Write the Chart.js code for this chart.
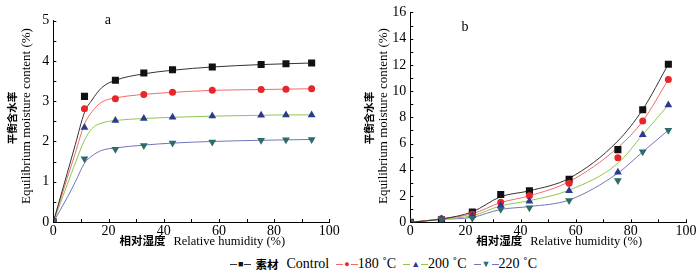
<!DOCTYPE html>
<html>
<head>
  <title>Equilibrium moisture content</title>
  <script src="https://cdn.jsdelivr.net/npm/chart.js"></script>
  <style>
    body { margin: 0; background: #fff; }
    #wrap { position: relative; width: 700px; height: 279px; }
    #chartA { position: absolute; left: 0; top: 0; }
    #chartB { position: absolute; left: 350px; top: 0; }
    #legend { position: absolute; left: 230px; top: 255px; height: 18px;
      display: flex; align-items: center; white-space: nowrap;
      font: 14px "Liberation Serif", serif; color: #000; }
    .item { display: flex; align-items: center; margin-right: 7px; }
    .seg { display: inline-block; width: 7px; height: 1px; }
    .mk { font-size: 9px; line-height: 9px; margin: 0 1px; }
    .zh { font-family: "Noto Sans CJK SC"; font-weight: bold; font-size: 11.5px; margin: 0 8px 0 4px; }
  </style>
</head>
<body>
<div id="wrap">
  <canvas id="chartA" width="350" height="255"></canvas>
  <canvas id="chartB" width="350" height="255"></canvas>
  <div id="legend"></div>
</div>
<script>
// relative humidity of the saturated salt solutions (%)
const rh = [0, 11.3, 22.5, 32.8, 43.2, 57.6, 75.3, 84.3, 93.6];

// panel a: measured points
const controlA = [0, 3.12, 3.52, 3.70, 3.78, 3.85, 3.91, 3.93, 3.95];
const t180A = [0, 2.81, 3.06, 3.17, 3.22, 3.27, 3.29, 3.30, 3.31];
const t200A = [0, 2.35, 2.52, 2.57, 2.60, 2.63, 2.65, 2.66, 2.66];
const t220A = [0, 1.57, 1.81, 1.90, 1.96, 1.99, 2.03, 2.04, 2.05];

// panel a: fitted curves
const rhFitA = [0, 5, 8, 11.3, 14, 17.6, 22.5, 32.8, 43.2, 57.6, 75.3, 84.3, 93.6];
const controlFitA = [0, 1.2, 1.93, 2.72, 3.03, 3.34, 3.52, 3.68, 3.77, 3.85, 3.91, 3.93, 3.95];
const t180FitA = [0, 1.08, 1.72, 2.43, 2.74, 2.98, 3.08, 3.17, 3.22, 3.27, 3.29, 3.30, 3.31];
const t200FitA = [0, 0.92, 1.47, 2.03, 2.32, 2.46, 2.52, 2.57, 2.60, 2.63, 2.65, 2.66, 2.66];
const t220FitA = [0, 0.6, 1.0, 1.46, 1.64, 1.78, 1.84, 1.91, 1.96, 2.0, 2.03, 2.04, 2.05];

// panel b: measured points
const controlB = [0, 0.2, 0.79, 2.12, 2.40, 3.27, 5.54, 8.58, 12.05];
const t180B = [0, 0.27, 0.62, 1.53, 2.03, 2.97, 4.92, 7.72, 10.88];
const t200B = [0, 0.25, 0.49, 1.28, 1.61, 2.40, 3.81, 6.68, 8.95];
const t220B = [0, 0.22, 0.30, 1.0, 1.11, 1.66, 3.19, 5.37, 7.02];

// panel b: fitted curves
const controlFitB = [0, 0.25, 0.8, 1.95, 2.4, 3.35, 6.2, 8.6, 12.05];
const t180FitB = [0, 0.27, 0.65, 1.5, 2.02, 3.1, 5.7, 7.72, 10.88];
const t200FitB = [0, 0.25, 0.5, 1.25, 1.65, 2.45, 4.5, 6.68, 8.95];
const t220FitB = [0, 0.22, 0.38, 0.98, 1.2, 1.7, 3.75, 5.37, 7.02];

const seriesZh = ['素材', '', '', ''];
const seriesNames = ['Control', '180 ˚C', '200 ˚C', '220 ˚C'];
const lineColors = ['#333333', '#f26a6a', '#8cc84b', '#7076bb'];
const markColors = ['#111111', '#e8262a', '#2b3990', '#2d6a6a'];
const markStyles = ['rect', 'circle', 'triangle', 'triangle'];
const markRot = [0, 0, 0, 180];
const markSize = [5, 3.5, 4.5, 4.5];

const xTitleZh = '相对湿度';
const xTitleEn = 'Relative humidity (%)';
const yTitleZh = '平衡含水率';
const yTitleEn = 'Equilibrium moisture content (%)';

const serif = '"Liberation Serif", serif';
const cjk = 'bold 11.5px "Noto Sans CJK SC"';

function xy(xs, ys) {
  return xs.map((x, i) => ({ x: x, y: ys[i] }));
}

function buildSets(pts, fits, fitX) {
  const sets = [];
  for (let i = 3; i >= 0; i--) {
    sets.push({
      data: xy(rh, pts[i]), showLine: false,
      pointStyle: markStyles[i], rotation: markRot[i], pointRadius: markSize[i],
      backgroundColor: markColors[i], borderColor: markColors[i], borderWidth: 0
    });
  }
  for (let i = 0; i < 4; i++) {
    sets.push({
      data: xy(fitX, fits[i]), showLine: true, pointRadius: 0,
      borderColor: lineColors[i], borderWidth: 1, cubicInterpolationMode: 'monotone'
    });
  }
  return sets;
}

// short tick marks pointing into the plot
const innerTicks = {
  id: 'innerTicks',
  afterDraw(chart) {
    const { ctx, chartArea, scales: { x, y } } = chart;
    ctx.save();
    ctx.strokeStyle = '#000';
    ctx.lineWidth = 1;
    ctx.beginPath();
    x.ticks.forEach(t => {
      const px = Math.round(x.getPixelForValue(t.value)) + 0.5;
      ctx.moveTo(px, chartArea.bottom);
      ctx.lineTo(px, chartArea.bottom - 3);
    });
    y.ticks.forEach(t => {
      const py = Math.round(y.getPixelForValue(t.value)) + 0.5;
      ctx.moveTo(chartArea.left, py);
      ctx.lineTo(chartArea.left + 3, py);
    });
    ctx.stroke();
    ctx.restore();
  }
};

// panel letter and the mixed Chinese / English axis titles
const panelText = {
  id: 'panelText',
  afterDraw(chart, args, opts) {
    const { ctx, chartArea, scales: { x, y } } = chart;
    ctx.save();
    ctx.fillStyle = '#000';
    ctx.textBaseline = 'middle';

    ctx.font = '14px ' + serif;
    ctx.textAlign = 'center';
    ctx.fillText(opts.text, x.getPixelForValue(opts.x), y.getPixelForValue(opts.y));

    // x title
    ctx.textAlign = 'left';
    ctx.font = cjk;
    const wz = ctx.measureText(xTitleZh).width;
    ctx.font = '12.5px ' + serif;
    const we = ctx.measureText(xTitleEn).width;
    const gap = 8;
    let x0 = (chartArea.left + chartArea.right) / 2 + opts.xShift - (wz + gap + we) / 2;
    ctx.font = cjk;
    ctx.fillText(xTitleZh, x0, opts.xTitleY);
    ctx.font = '12.5px ' + serif;
    ctx.fillText(xTitleEn, x0 + wz + gap, opts.xTitleY + 0.5);

    // y title, two rotated lines
    ctx.textAlign = 'center';
    ctx.save();
    ctx.translate(opts.zhX, opts.yMid);
    ctx.rotate(-Math.PI / 2);
    ctx.font = 'bold 10.5px "Noto Sans CJK SC"';
    ctx.fillText(yTitleZh, 0, 0);
    ctx.restore();
    ctx.save();
    ctx.translate(opts.enX, opts.yMid - 2);
    ctx.rotate(-Math.PI / 2);
    ctx.font = '13px ' + serif;
    ctx.fillText(yTitleEn, 0, 0);
    ctx.restore();

    ctx.restore();
  }
};

function makeChart(id, sets, cfg) {
  return new Chart(document.getElementById(id), {
    type: 'scatter',
    data: { datasets: sets },
    plugins: [innerTicks, panelText],
    options: {
      responsive: false,
      animation: false,
      layout: { padding: cfg.pad },
      plugins: {
        legend: { display: false },
        tooltip: { enabled: false },
        panelText: cfg.label
      },
      scales: {
        x: {
          type: 'linear', min: 0, max: 100,
          afterFit: s => { s.height = cfg.xh; },
          ticks: { stepSize: 10, padding: 1, color: '#000', font: { family: serif, size: 14 },
            maxRotation: 0, autoSkip: false, callback: v => (v % 20 === 0 ? v : '') },
          grid: { display: true, drawOnChartArea: false, drawTicks: false },
          border: { display: true, color: '#000', width: 1 }
        },
        y: {
          type: 'linear', min: 0, max: cfg.ymax,
          afterFit: s => { s.width = cfg.yw; },
          ticks: { stepSize: cfg.ystep, padding: 4, color: '#000', font: { family: serif, size: 14 },
            autoSkip: false, callback: cfg.ycb },
          grid: { display: true, drawOnChartArea: false, drawTicks: false },
          border: { display: true, color: '#000', width: 1 }
        }
      }
    }
  });
}

makeChart('chartA', buildSets([controlA, t180A, t200A, t220A], [controlFitA, t180FitA, t200FitA, t220FitA], rhFitA), {
  pad: { left: 0, right: 20.7, top: 20.7, bottom: 0 },
  xh: 33, yw: 53.3, ymax: 5, ystep: 0.5,
  ycb: v => (Number.isInteger(v) ? v : ''),
  label: { text: 'a', x: 19.8, y: 5.0, xShift: 11, xTitleY: 241, zhX: 12.5, enX: 27, yMid: 118 }
});

makeChart('chartB', buildSets([controlB, t180B, t200B, t220B], [controlFitB, t180FitB, t200FitB, t220FitB], rh), {
  pad: { left: 0, right: 14, top: 6.7, bottom: 0 },
  xh: 32.7, yw: 60.3, ymax: 16, ystep: 1,
  ycb: v => (v % 2 === 0 ? v : ''),
  label: { text: 'b', x: 19.8, y: 14.9, xShift: 11, xTitleY: 241, zhX: 19.5, enX: 33.5, yMid: 118 }
});

// shared legend under both panels
const glyphs = ['■', '●', '▲', '▼'];
const legend = document.getElementById('legend');
seriesNames.forEach((name, i) => {
  const item = document.createElement('span');
  item.className = 'item';
  item.innerHTML =
    '<span class="seg" style="background:' + lineColors[i] + '"></span>' +
    '<span class="mk" style="color:' + markColors[i] + '">' + glyphs[i] + '</span>' +
    '<span class="seg" style="background:' + lineColors[i] + '"></span>' +
    (seriesZh[i] ? '<span class="zh">' + seriesZh[i] + '</span>' : '') +
    '<span>' + name + '</span>';
  legend.appendChild(item);
});
</script>
</body>
</html>
